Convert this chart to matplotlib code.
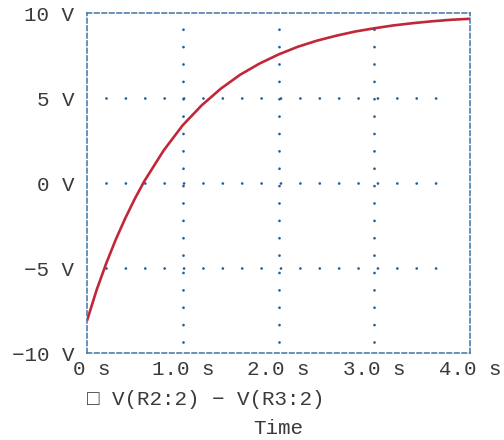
import matplotlib
matplotlib.use("Agg")
import matplotlib.pyplot as plt
import matplotlib.transforms as mtransforms

# ------------------------------
# Data
# ------------------------------
time_s = [0.0, 0.1, 0.2, 0.3, 0.4, 0.5, 0.6, 0.8, 1.0, 1.2, 1.4, 1.6, 1.8,
          2.0, 2.2, 2.4, 2.6, 2.8, 3.0, 3.2, 3.4, 3.6, 3.8, 4.0]
volts = [-8.1, -6.3, -4.74, -3.33, -2.07, -0.92, 0.12, 1.91, 3.4, 4.58,
         5.56, 6.37, 7.02, 7.56, 8.01, 8.37, 8.66, 8.91, 9.1, 9.27, 9.4,
         9.51, 9.6, 9.66]

x_ticks = [0, 1, 2, 3, 4]
x_labels = ["0 s", "1.0 s", "2.0 s", "3.0 s", "4.0 s"]
y_ticks = [-10, -5, 0, 5, 10]
y_labels = ["\u221210 V", "\u22125 V", "0 V", "5 V", "10 V"]
grid_v = [1, 2, 3]
grid_h = [-5, 0, 5]
trace_name = "\u25a1 V(R2:2) \u2212 V(R3:2)"

# ------------------------------
# Style
# ------------------------------
plt.rcParams["lines.scale_dashes"] = False
MONO = ["Liberation Mono", "DejaVu Sans Mono"]
TEXT = "#3a3a3a"
FRAME = "#3f74a3"
DOTS = "#245f94"
TRACE = "#c0283a"

fig = plt.figure(figsize=(5.04, 4.40), dpi=100)
ax = fig.add_axes([87 / 504, 1 - 353 / 440, 383 / 504, 340 / 440])

ax.set_xlim(0, 4)
ax.set_ylim(-10, 10)

# dotted grid (drawn as lines so the dot spacing can be matched)
ax.hlines(grid_h, 0.198, 3.66, colors=DOTS, linewidth=2.0,
          linestyles=[(0, (0.01, 13.95))])
ax.vlines(grid_v, -9.37, 9.04, colors=DOTS, linewidth=2.0,
          linestyles=[(0, (0.01, 12.5))])
for c in ax.collections:
    c.set_capstyle("round")

ax.plot(time_s, volts, color=TRACE, linewidth=1.9, solid_capstyle="butt")

# dashed frame
for side in ["top", "bottom", "left", "right"]:
    ax.spines[side].set_linestyle((0, (3.3, 2.1)))
    ax.spines[side].set_color(FRAME)
    ax.spines[side].set_linewidth(1.1)

ax.set_xticks(x_ticks)
ax.set_xticklabels(x_labels)
ax.set_yticks(y_ticks)
ax.set_yticklabels(y_labels)
ax.tick_params(length=0, colors=TEXT, labelsize=15)
ax.tick_params(axis="x", pad=5)
ax.tick_params(axis="y", pad=9)
for lab in ax.get_xticklabels() + ax.get_yticklabels():
    lab.set_family(MONO)

# the "0 s" label sits a little right of the axis origin
first = ax.get_xticklabels()[0]
first.set_transform(first.get_transform() +
                    mtransforms.ScaledTranslation(5 / 100, 0, fig.dpi_scale_trans))

fig.text(87 / 504, 1 - 399 / 440, trace_name, family=MONO, fontsize=15,
         color=TEXT, ha="left", va="center")
fig.text(278 / 504, 1 - 428 / 440, "Time", family=MONO, fontsize=15,
         color=TEXT, ha="center", va="center")

fig.savefig("out.png", dpi=100)
